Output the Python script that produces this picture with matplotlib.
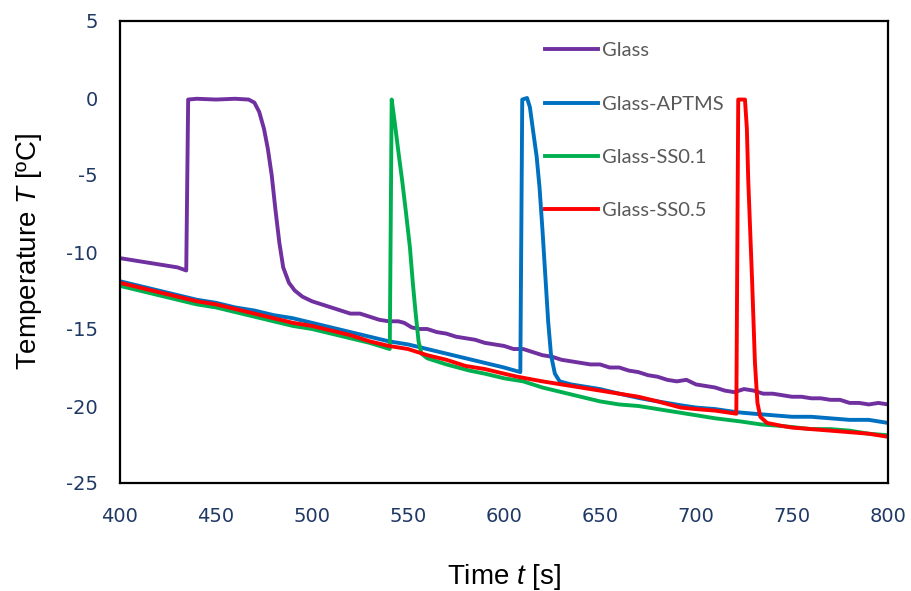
import matplotlib
matplotlib.use("Agg")
import matplotlib.pyplot as plt

plt.rcParams['axes.unicode_minus'] = False
plt.rcParams['mathtext.fontset'] = 'custom'
plt.rcParams['mathtext.it'] = 'Liberation Sans:italic'
plt.rcParams['mathtext.rm'] = 'Liberation Sans'

# Glass
t_glass = [400, 410, 420, 430, 434.5, 435.5, 440, 450, 460, 467, 470, 472.5, 475, 477, 479, 481, 483,
           485, 488, 491, 495, 500, 505, 510, 515, 520, 525, 530, 535, 540, 545, 548, 552, 556, 560,
           565, 570, 575, 580, 585, 590, 595, 600, 605, 610, 615, 620, 625, 630, 635, 640, 645, 650,
           655, 660, 665, 670, 675, 680, 685, 690, 695, 700, 705, 710, 715, 720, 725, 730, 735, 740,
           745, 750, 755, 760, 765, 770, 775, 780, 785, 790, 795, 800]
T_glass = [-10.4, -10.6, -10.8, -11.0, -11.2, -0.1, -0.05, -0.1, -0.05, -0.1, -0.3, -0.9, -2.0, -3.3,
           -5.0, -7.3, -9.4, -11.0, -12.0, -12.5, -12.9, -13.2, -13.4, -13.6, -13.8, -14.0, -14.0,
           -14.2, -14.4, -14.5, -14.5, -14.6, -14.9, -15.0, -15.0, -15.2, -15.3, -15.5, -15.6, -15.7,
           -15.9, -16.0, -16.1, -16.3, -16.3, -16.5, -16.7, -16.8, -17.0, -17.1, -17.2, -17.3, -17.3,
           -17.5, -17.5, -17.7, -17.8, -18.0, -18.1, -18.3, -18.4, -18.3, -18.6, -18.7, -18.8, -19.0,
           -19.1, -18.9, -19.0, -19.2, -19.2, -19.3, -19.4, -19.4, -19.5, -19.5, -19.6, -19.6, -19.8,
           -19.8, -19.9, -19.8, -19.9]

# Glass-APTMS
t_aptms = [400, 410, 420, 430, 440, 450, 460, 470, 480, 490, 500, 510, 520, 530, 540, 550, 560, 570,
           580, 590, 600, 608.5, 609.5, 612, 613.5, 615, 617, 618.5, 620, 621.5, 623, 624.5, 626.5,
           629, 635, 640, 650, 660, 671, 680, 692, 700, 710, 721, 730, 740, 750, 760, 770, 780, 790, 800]
T_aptms = [-11.9, -12.2, -12.5, -12.8, -13.1, -13.3, -13.6, -13.8, -14.1, -14.3, -14.6, -14.9, -15.2,
           -15.5, -15.8, -16.0, -16.3, -16.6, -16.9, -17.2, -17.5, -17.8, -0.1, 0.0, -0.6, -2.0, -3.8,
           -5.8, -8.5, -11.5, -14.5, -16.7, -17.9, -18.4, -18.6, -18.7, -18.9, -19.2, -19.5, -19.7,
           -19.95, -20.1, -20.2, -20.4, -20.5, -20.6, -20.7, -20.7, -20.8, -20.9, -20.9, -21.1]

# Glass-SS0.1
t_ss01 = [400, 410, 420, 430, 440, 450, 460, 470, 480, 490, 500, 510, 520, 530, 540.5, 541.5, 543,
          545, 547, 549, 551, 552.5, 554, 555.5, 557, 560, 570, 582, 590, 600, 610, 620, 630, 640,
          650, 660, 670, 680, 690, 700, 710, 723, 734, 745, 760, 770, 780, 790, 800]
T_ss01 = [-12.2, -12.5, -12.8, -13.1, -13.4, -13.6, -13.9, -14.2, -14.5, -14.8, -15.0, -15.3, -15.6,
          -15.9, -16.3, -0.1, -1.5, -3.5, -5.4, -7.5, -9.7, -12.0, -14.0, -15.8, -16.6, -16.9, -17.3,
          -17.7, -17.9, -18.2, -18.4, -18.8, -19.1, -19.4, -19.7, -19.9, -20.0, -20.2, -20.4, -20.6,
          -20.8, -21.0, -21.2, -21.3, -21.5, -21.5, -21.6, -21.8, -21.9]

# Glass-SS0.5
t_ss05 = [400, 410, 420, 430, 440, 450, 460, 470, 480, 490, 500, 510, 520, 530, 540, 550, 560, 570,
          580, 590, 600, 607, 620, 630, 640, 650, 660, 670, 680, 692, 700, 710, 721, 722, 725.5,
          726.5, 727.2, 729.2, 730.7, 732, 733.5, 737, 745, 750, 760, 770, 780, 790, 800]
T_ss05 = [-12.0, -12.3, -12.6, -12.9, -13.2, -13.4, -13.7, -14.0, -14.3, -14.6, -14.8, -15.1, -15.4,
          -15.8, -16.1, -16.3, -16.7, -17.0, -17.4, -17.6, -17.9, -18.1, -18.4, -18.6, -18.8, -19.0,
          -19.2, -19.4, -19.7, -20.1, -20.2, -20.3, -20.5, -0.1, -0.1, -2.0, -5.3, -11.8, -17.2,
          -19.8, -20.7, -21.1, -21.3, -21.4, -21.5, -21.6, -21.7, -21.8, -22.0]

series = [
    ("Glass", t_glass, T_glass, "#7030A0"),
    ("Glass-APTMS", t_aptms, T_aptms, "#0070C0"),
    ("Glass-SS0.1", t_ss01, T_ss01, "#00B050"),
    ("Glass-SS0.5", t_ss05, T_ss05, "#FF0000"),
]

fig = plt.figure(figsize=(9.12, 5.91), dpi=100)
ax = fig.add_axes([120/912, 1-483/591, 768/912, 462/591])

for name, t, T, c in series:
    ax.plot(t, T, color=c, lw=2.8, label=name, solid_joinstyle='round')

ax.set_xlim(400, 800)
ax.set_ylim(-25, 5)
ax.set_xticks(range(400, 801, 50))
ax.set_yticks(range(-25, 6, 5))
for s in ax.spines.values():
    s.set_linewidth(1.6)
    s.set_color("black")

ax.tick_params(axis='both', length=0, colors="#1F3864")
ax.tick_params(axis='x', pad=17)
ax.tick_params(axis='y', pad=16)
for lab in ax.get_xticklabels() + ax.get_yticklabels():
    lab.set_fontfamily(['Liberation Sans Narrow', 'DejaVu Sans'])
    lab.set_fontsize(14)

lab_font = dict(family=['Liberation Sans', 'DejaVu Sans'], size=20)
ax.set_xlabel("Time $\\it{t}$ [s]", fontdict=lab_font)
ax.xaxis.set_label_coords(0.5, -0.172)
ax.set_ylabel("Temperature $\\it{T}$ [ºC]", fontdict=lab_font)
ax.yaxis.set_label_coords(-0.099, 0.5)

leg = ax.legend(loc='upper left', bbox_to_anchor=(0.53, 0.993), frameon=False,
                prop=dict(family=['Lato', 'DejaVu Sans'], size=14.5),
                handlelength=2.6, handletextpad=0.2, labelspacing=1.8)
for txt in leg.get_texts():
    txt.set_color("#595959")

fig.savefig("out.png", dpi=100)
